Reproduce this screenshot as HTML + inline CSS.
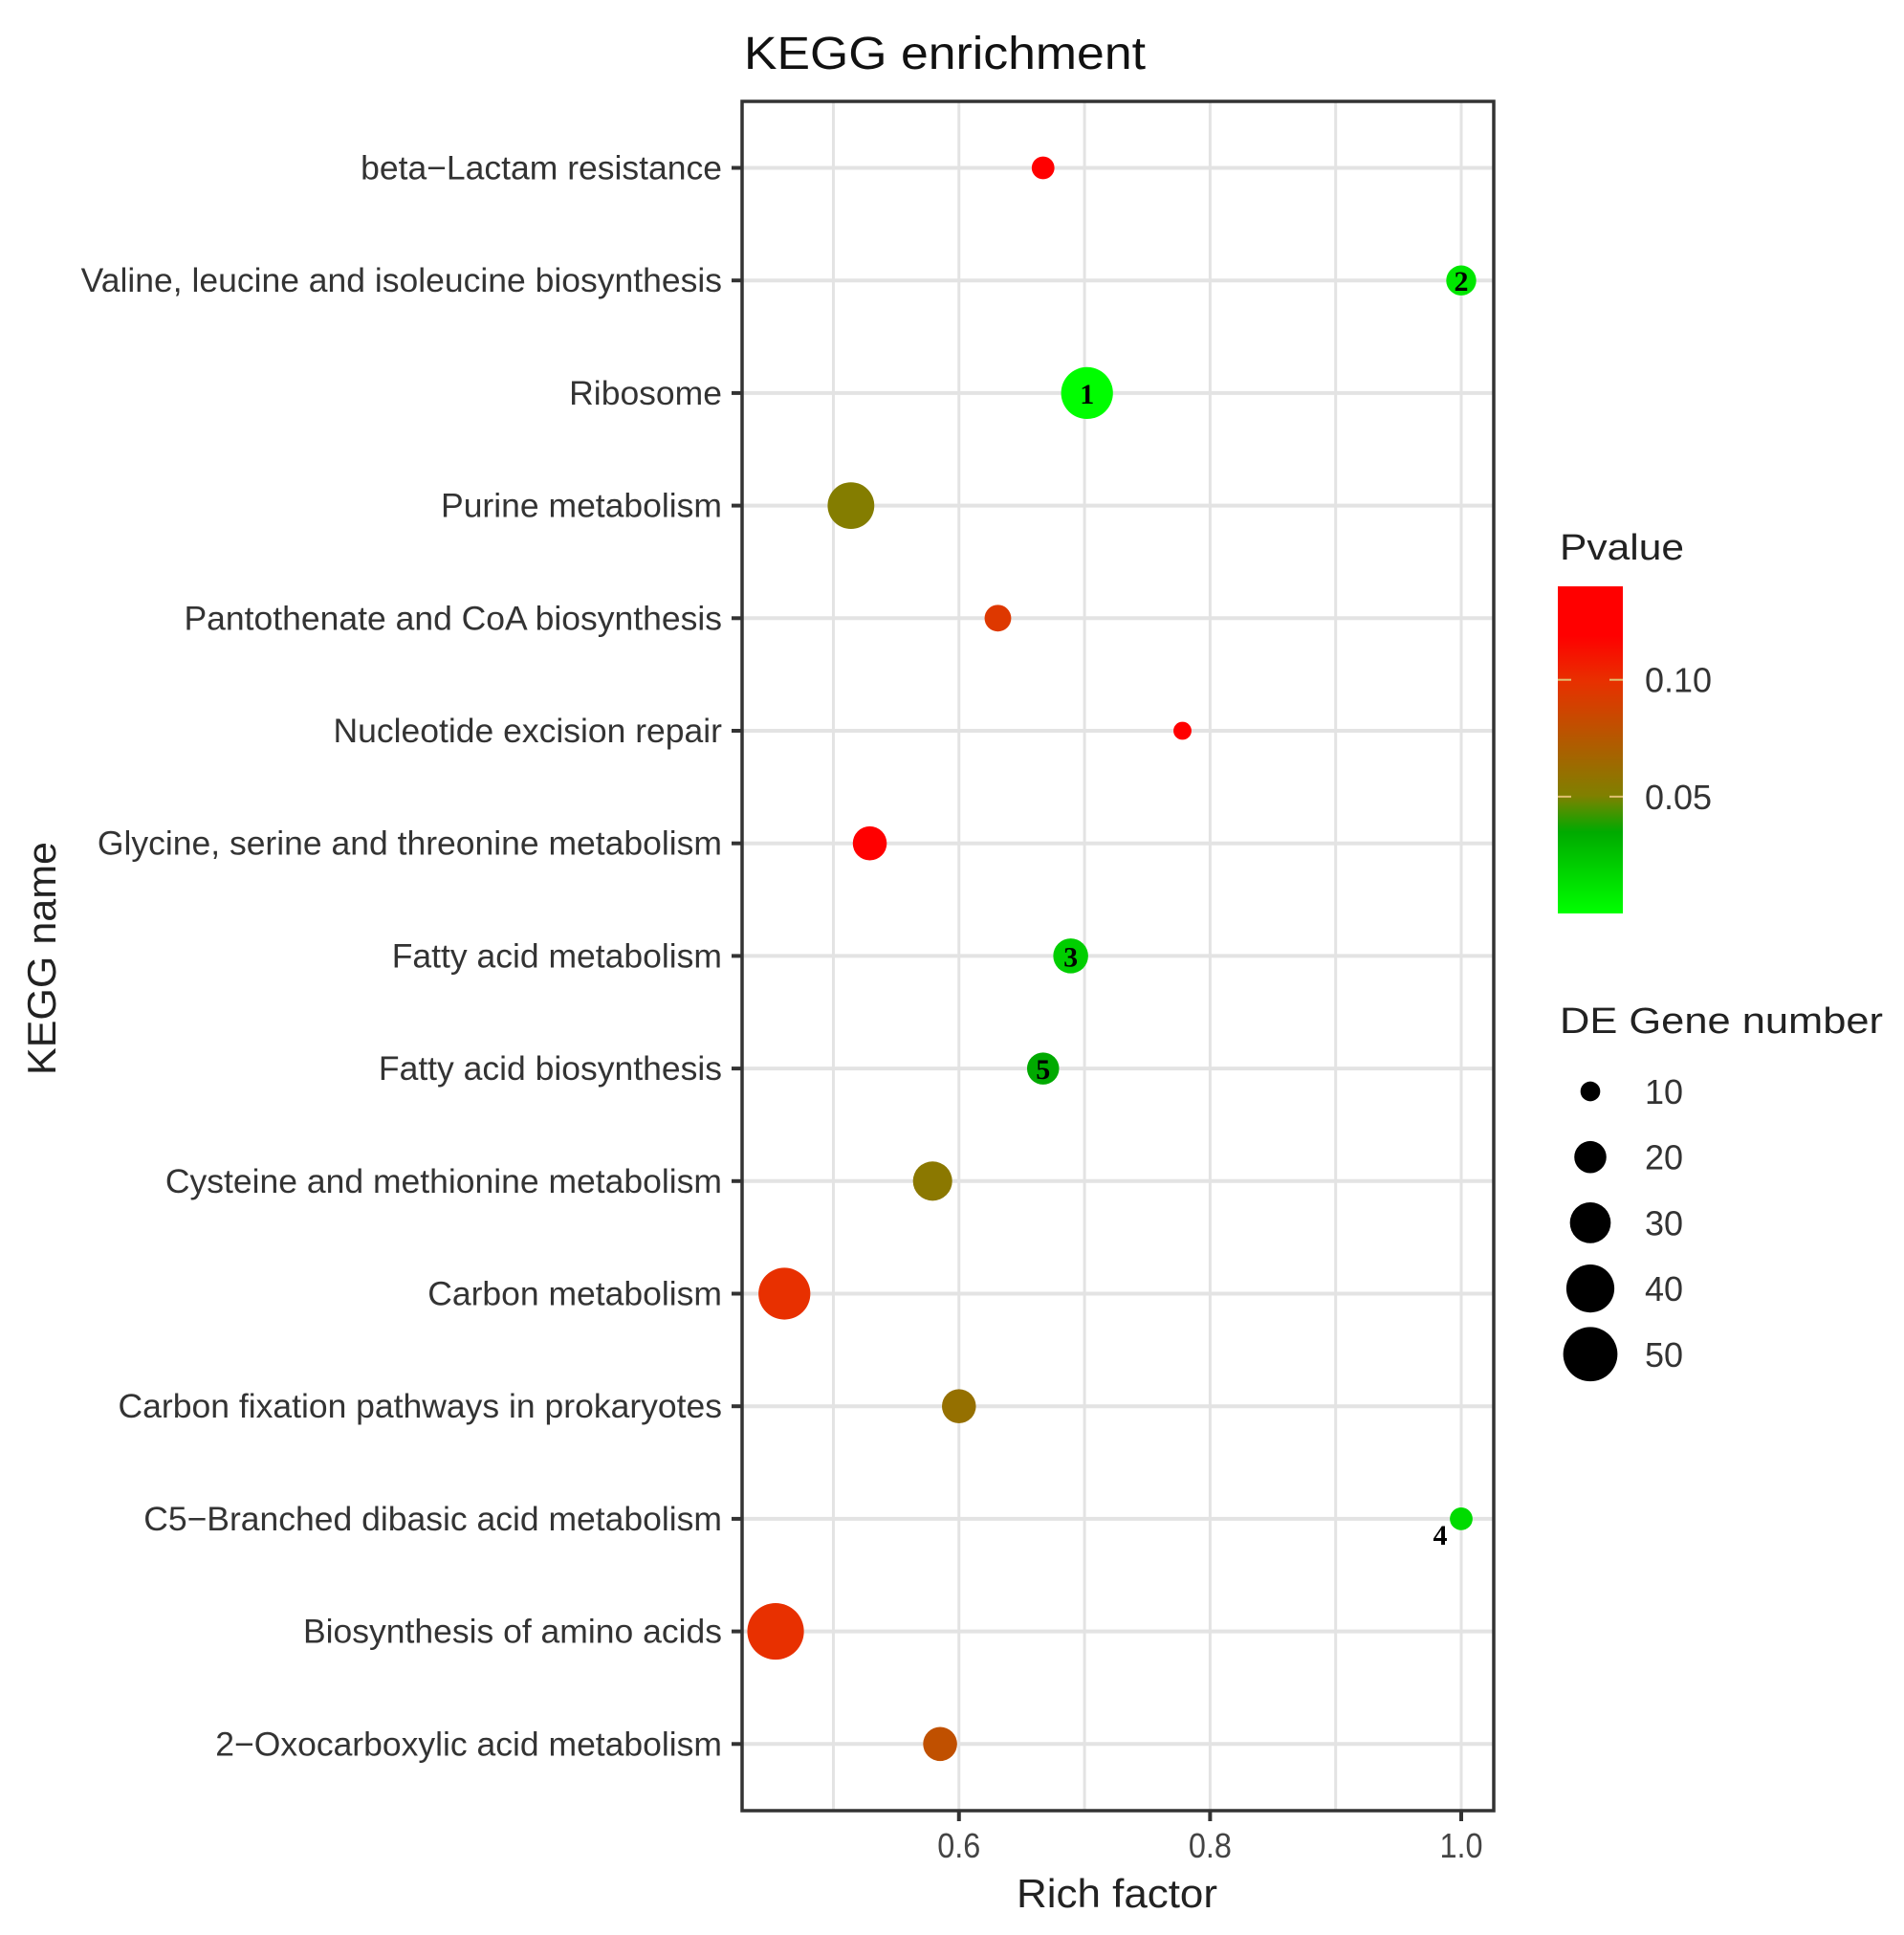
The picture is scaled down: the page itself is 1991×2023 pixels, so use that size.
<!DOCTYPE html>
<html><head><meta charset="utf-8"><style>
html,body{margin:0;padding:0;background:#fff;}
svg{display:block;font-family:"Liberation Sans",sans-serif;}
</style></head><body>
<svg id="chart" width="1991" height="2023" viewBox="0 0 1991 2023" xmlns="http://www.w3.org/2000/svg">
<rect width="1991" height="2023" fill="#fff"/>
<defs>
<linearGradient id="pgrad" x1="0" y1="1" x2="0" y2="0">
<stop offset="0" stop-color="#00ff00"/>
<stop offset="0.25" stop-color="#00aa00"/>
<stop offset="0.36" stop-color="#808000"/>
<stop offset="0.57" stop-color="#c05000"/>
<stop offset="0.71" stop-color="#e83000"/>
<stop offset="0.85" stop-color="#ff0000"/>
<stop offset="1" stop-color="#ff0000"/>
</linearGradient>
</defs>
<g id="grid"></g>
<g id="points"></g>
<g id="axes"></g>
<g id="legend"></g>
</svg>
<script>
const categories = ["beta\u2212Lactam resistance","Valine, leucine and isoleucine biosynthesis","Ribosome","Purine metabolism","Pantothenate and CoA biosynthesis","Nucleotide excision repair","Glycine, serine and threonine metabolism","Fatty acid metabolism","Fatty acid biosynthesis","Cysteine and methionine metabolism","Carbon metabolism","Carbon fixation pathways in prokaryotes","C5\u2212Branched dibasic acid metabolism","Biosynthesis of amino acids","2\u2212Oxocarboxylic acid metabolism"];
const richFactor = [0.667,1.0,0.702,0.514,0.631,0.778,0.529,0.689,0.667,0.579,0.461,0.6,1.0,0.454,0.585];
const geneNumber = [12,18,46,38,15,9,22,23,20,28,46,22,12,54,22];
const pValue = [0.13,0.01,0.001,0.052,0.095,0.12,0.125,0.02,0.035,0.055,0.10,0.06,0.015,0.10,0.08];
const pointLabels = ["","2","1","","","","","3","5","","","","4","",""];
const xTicks = [0.6,0.8,1.0];
const xTickLabels = ["0.6","0.8","1.0"];
const xGrid = [0.5,0.6,0.7,0.8,0.9,1.0];
const pTicks = [0.05,0.10];
const pTickLabels = ["0.05","0.10"];
const sizeLegend = [10,20,30,40,50];

const NS="http://www.w3.org/2000/svg";
const L=776,R=1562,T=106,B=1893;
const X0=0.4273,X1=1.0259;
const xs=v=>L+(v-X0)/(X1-X0)*(R-L);
const ys=i=>175.5+i*117.7;
const rs=n=>1.29*Math.sqrt(Math.max(1,-41+10.5*n));
const stops=[[0,[0,255,0]],[0.035,[0,170,0]],[0.05,[128,128,0]],[0.08,[192,80,0]],[0.10,[232,48,0]],[0.12,[255,0,0]],[1,[255,0,0]]];
function col(p){for(let i=0;i<stops.length-1;i++){const a=stops[i],b=stops[i+1];if(p<=b[0]){const t=(p-a[0])/(b[0]-a[0]);const c=a[1].map((v,k)=>Math.round(v+(b[1][k]-v)*t));return `rgb(${c.join(',')})`;}}return "rgb(255,0,0)";}
function mk(tag,attrs,parent,text){const e=document.createElementNS(NS,tag);for(const k in attrs)e.setAttribute(k,attrs[k]);if(text!==undefined)e.textContent=text;parent.appendChild(e);return e;}
const grid=document.getElementById('grid'),pts=document.getElementById('points'),axes=document.getElementById('axes'),leg=document.getElementById('legend');

xGrid.forEach(v=>{const e=mk('line',{x1:xs(v),x2:xs(v),y1:T,y2:B,stroke:'#e3e3e3','stroke-width':3},grid);

});
categories.forEach((c,i)=>{const e=mk('line',{x1:L,x2:R,y1:ys(i),y2:ys(i),stroke:'#e3e3e3','stroke-width':4},grid);

});

categories.forEach((c,i)=>{
 const cx=xs(richFactor[i]),cy=ys(i);
 const e=mk('circle',{cx:cx,cy:cy,r:rs(geneNumber[i]),fill:col(pValue[i])},pts);
 
 
 if(pointLabels[i]){
  const off=pointLabels[i]==="4"?[-22,16]:[0,0];
  const t=mk('text',{x:cx+off[0],y:cy+off[1]+11,'text-anchor':'middle','font-family':'"Liberation Serif",serif','font-weight':'bold','font-size':30,fill:'#000'},pts,pointLabels[i]);
  
  
 }
 const tk=mk('line',{x1:765,x2:L,y1:cy,y2:cy,stroke:'#333','stroke-width':4},axes);
 
 
 const lb=mk('text',{x:755,y:cy+12,'text-anchor':'end','font-size':35.5,fill:'#333'},axes,c);
 
 
});

const frame=mk('rect',{x:L,y:T,width:R-L,height:B-T,fill:'none',stroke:'#333','stroke-width':3.5},axes);


xTicks.forEach((v,i)=>{
 const t=mk('line',{x1:xs(v),x2:xs(v),y1:B,y2:B+11,stroke:'#333','stroke-width':4},axes);
 
 
 const l=mk('text',{transform:`translate(${xs(v)},1942) scale(0.9,1)`,'text-anchor':'middle','font-size':36,fill:'#444'},axes,xTickLabels[i]);
 
 
});
let e;
e=mk('text',{x:1168,y:1994,'text-anchor':'middle','font-size':42,fill:'#222',textLength:210,lengthAdjust:'spacingAndGlyphs'},axes,'Rich factor');


e=mk('text',{transform:'translate(58,1002) rotate(-90)','text-anchor':'middle','font-size':42,fill:'#222',textLength:244,lengthAdjust:'spacingAndGlyphs'},axes,'KEGG name');


e=mk('text',{x:778,y:72,'font-size':48,fill:'#111',textLength:420,lengthAdjust:'spacingAndGlyphs'},axes,'KEGG enrichment');



// legend
e=mk('text',{x:1631,y:585,'font-size':38,fill:'#222',textLength:130,lengthAdjust:'spacingAndGlyphs'},leg,'Pvalue');


const CB0=955,CB1=613,PMAX=0.14;
const py=p=>CB0-(p/PMAX)*(CB0-CB1);
e=mk('rect',{x:1629,y:CB1,width:68,height:CB0-CB1,fill:'url(#pgrad)'},leg);


pTicks.forEach((p,i)=>{
 mk('line',{x1:1629,x2:1643,y1:py(p),y2:py(p),stroke:'#e0c070','stroke-width':2},leg);
 mk('line',{x1:1683,x2:1697,y1:py(p),y2:py(p),stroke:'#e0c070','stroke-width':2},leg);
 const t=mk('text',{x:1720,y:py(p)+13,'font-size':36,fill:'#333'},leg,pTickLabels[i]);
 
 
});
e=mk('text',{x:1631,y:1080,'font-size':38,fill:'#222',textLength:338,lengthAdjust:'spacingAndGlyphs'},leg,'DE Gene number');


sizeLegend.forEach((n,i)=>{
 const cy=1141+i*68.7;
 const c=mk('circle',{cx:1663,cy:cy,r:rs(n),fill:'#000'},leg);
 
 
 const t=mk('text',{x:1720,y:cy+13,'font-size':36,fill:'#333'},leg,String(n));
 
 
});
</script>
</body></html>
